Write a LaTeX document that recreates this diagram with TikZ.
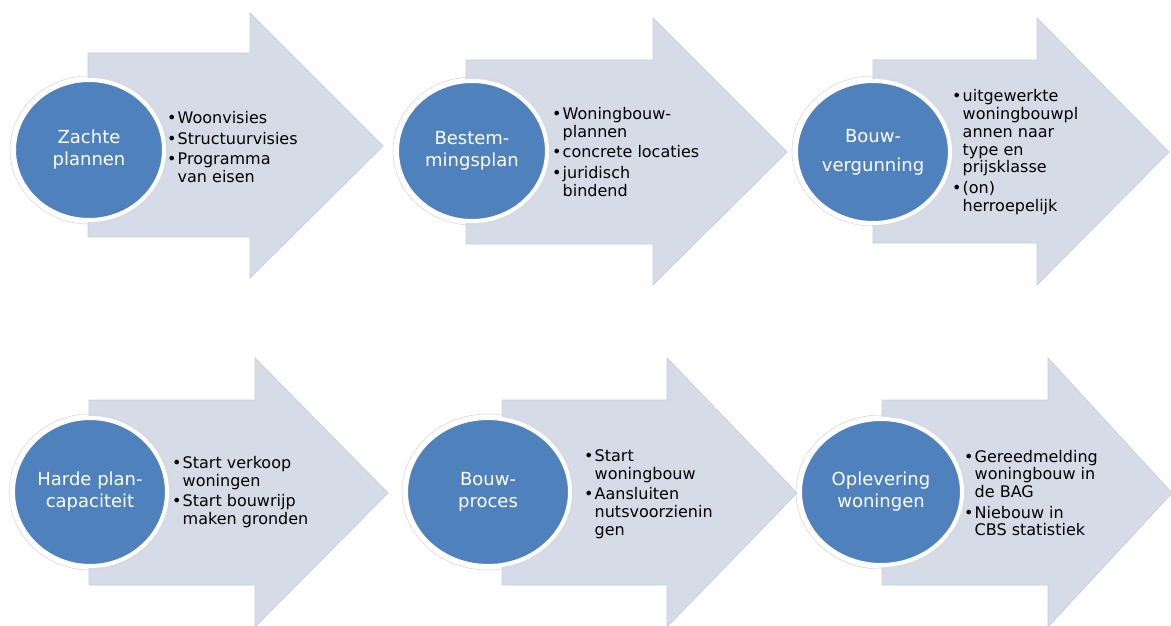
\documentclass[tikz,border=0pt]{standalone}
\usepackage{fontspec}
\setmainfont{DejaVu Sans}
\usetikzlibrary{shapes.geometric}
\definecolor{arrowfill}{HTML}{D5DCE8}
\definecolor{arrowedge}{HTML}{C9D0DD}
\definecolor{circblue}{HTML}{4F81BD}
\definecolor{ringgray}{HTML}{D8D8D8}
\newcommand\bl{\makebox[10.5pt][l]{\textbullet}}
\newcommand\ind{\hspace*{10.5pt}}
\newcommand\gap{\\[2.5pt]}
\tikzset{
  bigarrow/.style={fill=arrowfill, draw=arrowedge, line width=0.8pt, line join=miter},
  stage/.style={ellipse, fill=circblue, draw=white, line width=4pt, inner sep=0pt,
    text=white, align=center, font=\fontsize{18}{22}\selectfont},
  ring/.style={draw=ringgray, line width=0.6pt},
  bullets/.style={anchor=west, align=left, inner sep=0pt, text=black,
    font=\fontsize{16}{17.8}\selectfont}
}
\begin{document}
\begin{tikzpicture}[x=1pt,y=-1pt]
\useasboundingbox (0,0) rectangle (1171,626);
\clip (0,0) rectangle (1171,626);
% arrows
\draw[bigarrow] (88,53) -- (250,53) -- (250,13) -- (383,146) -- (250,278) -- (250,237) -- (88,237) -- cycle;
\draw[bigarrow] (466,60) -- (653,60) -- (653,18) -- (787,152) -- (653,285) -- (653,244) -- (466,244) -- cycle;
\draw[bigarrow] (873,60) -- (1037,60) -- (1037,18) -- (1169,152) -- (1037,285) -- (1037,243) -- (873,243) -- cycle;
\draw[bigarrow] (89,400) -- (255,400) -- (255,358) -- (388,493) -- (255,627) -- (255,585) -- (89,585) -- cycle;
\draw[bigarrow] (502,400) -- (667,400) -- (667,358) -- (797,493) -- (667,627) -- (667,585) -- (502,585) -- cycle;
\draw[bigarrow] (882,400) -- (1048,400) -- (1048,358) -- (1172,493) -- (1048,627) -- (1048,585) -- (882,585) -- cycle;
% circles
\draw[ring] (89,150) ellipse [x radius=79, y radius=74];
\node[stage, minimum width=150pt, minimum height=140pt] (c1) at (89,150) {Zachte\\plannen};
\draw[ring] (472,151) ellipse [x radius=79, y radius=74];
\node[stage, minimum width=150pt, minimum height=140pt] (c2) at (472,151) {Bestem-\\mingsplan};
\draw[ring] (873,151) ellipse [x radius=81, y radius=75];
\node[stage, minimum width=154pt, minimum height=142pt, font=\fontsize{18}{29}\selectfont] (c3) at (873,152) {Bouw-\\vergunning};
\draw[ring] (90,492) ellipse [x radius=81, y radius=78];
\node[stage, minimum width=154pt, minimum height=148pt] (c4) at (90,492) {Harde plan-\\capaciteit};
\draw[ring] (488,492) ellipse [x radius=86, y radius=78];
\node[stage, minimum width=164pt, minimum height=148pt] (c5) at (488,492) {Bouw-\\proces};
\draw[ring] (881,492) ellipse [x radius=85, y radius=77];
\node[stage, minimum width=162pt, minimum height=146pt] (c6) at (881,492) {Oplevering\\woningen};
% bullet texts
\node[bullets] (t1) at (167,147) {\bl Woonvisies\gap\bl Structuurvisies\gap\bl Programma\\\ind van eisen};
\node[bullets] (t2) at (552,152) {\bl Woningbouw-\\\ind plannen\gap\bl concrete locaties\gap\bl juridisch\\\ind bindend};
\node[bullets] (t3) at (952,152) {\bl uitgewerkte\\\ind woningbouwpl\\\ind annen naar\\\ind type en\\\ind prijsklasse\gap\bl (on)\\\ind herroepelijk};
\node[bullets] (t4) at (172,492) {\bl Start verkoop\\\ind woningen\gap\bl Start bouwrijp\\\ind maken gronden};
\node[bullets] (t5) at (584,494) {\bl Start\\\ind woningbouw\gap\bl Aansluiten\\\ind nutsvoorzienin\\\ind gen};
\node[bullets] (t6) at (964,493) {\bl Gereedmelding\\\ind woningbouw in\\\ind de BAG\gap\bl Niebouw in\\\ind CBS statistiek};
\end{tikzpicture}
\end{document}
